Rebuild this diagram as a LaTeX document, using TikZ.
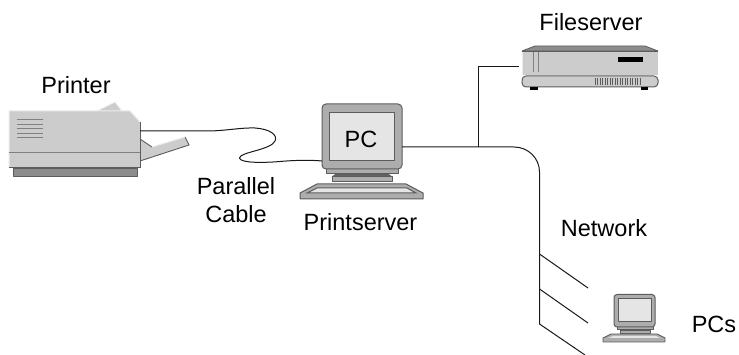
\documentclass[tikz,border=0pt]{standalone}
\usepackage{fontspec}
\setmainfont{Liberation Sans}
\definecolor{bodyg}{gray}{0.80}
\definecolor{darkg}{gray}{0.55}
\definecolor{edgeg}{gray}{0.36}
\definecolor{screeng}{gray}{0.90}
\definecolor{caseg}{gray}{0.68}
\tikzset{
  lab/.style={font=\fontsize{23.5}{28}\selectfont,inner sep=0pt,align=center},
  cable/.style={draw=black!90,line width=1pt},
  shell/.style={draw=edgeg,line width=1pt,fill=bodyg,line join=round},
  soft/.style={draw=white!70!bodyg,line width=.8pt,fill=bodyg,line join=round},
  dark/.style={draw=edgeg,line width=.8pt,fill=darkg,line join=round}
}
\begin{document}
\begin{tikzpicture}[x=1pt,y=-1pt]
\useasboundingbox (0,0) rectangle (739,355);
% Printer
\filldraw[soft] (97,111) -- (115,102) -- (122,111) -- cycle;
\fill[bodyg] (140,139) -- (152,147) -- (185,137) -- (189,145) -- (140,161) -- cycle;
\draw[edgeg,line width=.9pt] (140,139) -- (152,147) (185,137) -- (189,145) -- (140,161);
\draw[white!60!bodyg,line width=1pt] (152,147) -- (185,137);
\filldraw[dark] (13,168) rectangle (137,176);
\fill[bodyg] (9,111) -- (130,111) -- (140,122) -- (140,168) -- (9,168) -- cycle;
\draw[white!60!bodyg,line width=1pt] (140,122) -- (130,111) -- (9,111) -- (9,168);
\draw[edgeg,line width=1pt] (140,122) -- (140,168) -- (9,168);
\draw[gray,line width=1pt] (9,153) -- (140,153);
\foreach \yy in {119.5,124,128.5,133,137.5} \draw[gray,line width=.9pt] (17,\yy) -- (43,\yy);
\coordinate (printerport) at (140,131);
% PC
\filldraw[dark,fill=darkg!70!black] (336,174) -- (388,174) -- (392,177) -- (332,177) -- cycle;
\filldraw[shell,fill=caseg] (326,168) rectangle (398,174);
\filldraw[shell,fill=caseg] (332,176.5) rectangle (392,182);
\filldraw[shell,fill=caseg,rounded corners=4pt] (322,104) rectangle (402,169);
\filldraw[shell,fill=screeng] (329,113) rectangle (394,161);
\filldraw[shell,fill=caseg] (317,184) -- (406,184) -- (423,193) -- (423,199) -- (300,199) -- (300,193) -- cycle;
\fill[screeng] (307,193) -- (317,188) -- (407,188) -- (416,193) -- cycle;
\draw[edgeg,line width=1pt] (307,193) -- (317,188) -- (407,188) -- (416,193) -- cycle;
\coordinate (pcleft) at (322,161);
\coordinate (pcright) at (402,147);
% Fileserver
\filldraw[dark] (522,51) -- (535,46) -- (645,46) -- (658,51) -- cycle;
\fill[bodyg] (522,51) rectangle (658,75.5);
\draw[white!60!bodyg,line width=.8pt] (522,75) -- (522,51);
\draw[edgeg,line width=.8pt] (522,51) -- (658,51);
\draw[gray,line width=1pt] (533,52) -- (533,72) (538,52) -- (538,72);
\fill[black] (618,57) rectangle (643,62);
\filldraw[shell,rounded corners=4pt] (522,76) rectangle (658,87);
\fill[black] (530,87.5) rectangle (538,90);
\fill[black] (641,87.5) rectangle (648,90);
\foreach \xx in {595,597.5,...,642} \draw[edgeg,line width=.6pt] (\xx,78.5) -- (\xx,85.5);
\coordinate (fsport) at (519,66.5);
% small PC
\filldraw[shell,fill=caseg] (617,326) rectangle (653,330);
\filldraw[shell,fill=caseg] (620,331) rectangle (650,334);
\filldraw[shell,fill=caseg,rounded corners=3pt] (614,294.5) rectangle (655,327);
\filldraw[shell,fill=screeng] (618,298.5) rectangle (651,322);
\filldraw[shell,fill=caseg,line width=.9pt] (611,334) -- (657,334) -- (665,338) -- (665,342) -- (603,342) -- (603,338) -- cycle;
\fill[screeng] (608,338) -- (613,336) -- (656,336) -- (660,338) -- cycle;
% Labels
\node[lab] (printer) at (76,85) {Printer};
\node[lab] (pc) at (361,139) {PC};
\node[lab] (cable) at (236,200) {Parallel\\Cable};
\node[lab] (ps) at (360.5,222) {Printserver};
\node[lab] (fs) at (591,22) {Fileserver};
\node[lab] (net) at (604,228) {Network};
\node[lab] (pcs) at (714,324) {PCs};
% Network
\coordinate (jt) at (478,147);
\coordinate (ntop) at (539.5,172);
\coordinate (bend) at (514,147);
\coordinate (n1) at (539.5,254);
\coordinate (n2) at (539.5,289);
\coordinate (n3) at (539.5,324);
\coordinate (t1) at (588,288);
\coordinate (t2) at (588,323);
\coordinate (t3) at (585,355);
\draw[cable] (printerport) -- (207,131) .. controls (225,131) and (240,127.5) .. (255,128)
  .. controls (270,129) and (278,135) .. (275,141)
  .. controls (271,150) and (240,152) .. (239.5,158)
  .. controls (240,163) and (262,163) .. (280,161.5)
  .. controls (297,160) and (312,160) .. (pcleft);
\draw[cable] (pcright) -- (bend) .. controls (528,147) and (539.5,158) .. (ntop) -- (n3);
\draw[cable] (fsport) -- (478,66.5) -- (jt);
\draw[cable] (n1) -- (t1);
\draw[cable] (n2) -- (t2);
\draw[cable] (n3) -- (t3);
\end{tikzpicture}
\end{document}
